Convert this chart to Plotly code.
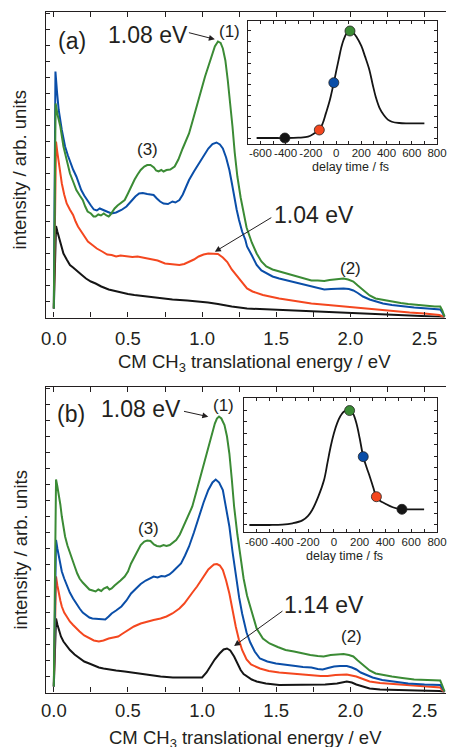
import plotly.graph_objects as go

FONT = "Liberation Sans, Arial, sans-serif"
TXT = "#231f20"
GREEN = "#3b8b35"
BLUE = "#0a4ea8"
RED = "#f4471f"
BLACK = "#151515"

# ---------------- panel (a) spectra ----------------
a_green_E = [0.0, 0.012, 0.025, 0.044, 0.065, 0.087, 0.109, 0.13, 0.152, 0.175, 0.195, 0.212, 0.228, 0.25, 0.268, 0.282, 0.3, 0.318, 0.337, 0.355, 0.37, 0.38, 0.395, 0.41, 0.43, 0.455, 0.478, 0.5, 0.52, 0.545, 0.565, 0.586, 0.61, 0.63, 0.652, 0.675, 0.69, 0.706, 0.725, 0.74, 0.76, 0.785, 0.815, 0.84, 0.869, 0.89, 0.912, 0.935, 0.956, 0.978, 1.0, 1.02, 1.042, 1.065, 1.086, 1.107, 1.125, 1.14, 1.157, 1.173, 1.19, 1.205, 1.22, 1.238, 1.26, 1.28, 1.3, 1.335, 1.368, 1.4, 1.433, 1.475, 1.52, 1.575, 1.63, 1.68, 1.737, 1.78, 1.824, 1.86, 1.89, 1.92, 1.954, 1.985, 2.02, 2.05, 2.085, 2.13, 2.17, 2.22, 2.28, 2.34, 2.39, 2.45, 2.52, 2.57, 2.606, 2.62, 2.635]
a_green_I = [9, 214, 203, 191, 171, 156, 144, 136, 127.5, 122, 117.5, 111, 106, 104, 101, 101, 103, 102, 104, 102, 101, 102.5, 106, 109, 112, 115, 117.5, 124, 131, 138, 143, 147.5, 151, 152.5, 152.5, 150, 147, 146, 147.5, 146, 147.5, 148, 151, 158, 169, 176, 184, 196, 207.5, 219, 231, 241, 251, 262, 271, 276, 274.5, 269, 257, 237.5, 214, 191, 165, 141, 120, 104, 90, 75, 64, 56, 51, 48, 46, 43.5, 41, 39, 37, 37, 36.5, 37.5, 38, 38.5, 39, 38, 36, 32, 27.5, 22, 19, 17.5, 16, 14.5, 13.5, 12.5, 11.5, 11, 11, 7, 1]

a_blue_E = [0.0, 0.011, 0.022, 0.033, 0.054, 0.076, 0.095, 0.109, 0.13, 0.152, 0.17, 0.185, 0.205, 0.228, 0.25, 0.27, 0.29, 0.31, 0.326, 0.345, 0.365, 0.39, 0.42, 0.456, 0.49, 0.52, 0.55, 0.575, 0.6, 0.63, 0.652, 0.673, 0.695, 0.717, 0.74, 0.77, 0.8, 0.82, 0.847, 0.87, 0.89, 0.912, 0.945, 0.977, 1.01, 1.042, 1.07, 1.097, 1.12, 1.14, 1.162, 1.184, 1.2, 1.216, 1.233, 1.249, 1.27, 1.292, 1.303, 1.336, 1.368, 1.4, 1.433, 1.475, 1.52, 1.575, 1.63, 1.68, 1.737, 1.78, 1.824, 1.87, 1.92, 1.954, 1.99, 2.02, 2.05, 2.085, 2.13, 2.17, 2.22, 2.28, 2.35, 2.43, 2.52, 2.606, 2.62, 2.635]
a_blue_I = [9, 246, 225, 207.5, 187.5, 171, 162, 156, 148, 141, 133, 127.5, 122, 117.5, 112, 108, 107, 109, 108, 106, 105.5, 104, 105, 107.5, 111, 116, 121, 124, 124.5, 123.5, 123, 122.5, 119, 116, 114, 113.5, 116, 115, 117.5, 123, 130, 137.5, 146, 154, 162, 169, 173.5, 175, 173, 169, 160, 147.5, 135, 121, 108, 97.5, 86, 77.5, 71, 62, 52.5, 47, 44, 41, 39, 37, 35, 33, 31.5, 30, 28, 28.5, 29, 29, 28.5, 27, 24.5, 21, 18, 16, 14, 12.5, 11, 10, 9, 8, 5, 1]

a_red_E = [0.0, 0.015, 0.024, 0.033, 0.044, 0.054, 0.07, 0.087, 0.108, 0.13, 0.147, 0.163, 0.185, 0.206, 0.23, 0.26, 0.29, 0.326, 0.36, 0.39, 0.42, 0.45, 0.478, 0.5, 0.53, 0.565, 0.6, 0.63, 0.652, 0.7, 0.75, 0.8, 0.847, 0.88, 0.912, 0.945, 0.977, 1.01, 1.042, 1.075, 1.107, 1.14, 1.17, 1.2, 1.238, 1.27, 1.303, 1.34, 1.41, 1.52, 1.63, 1.737, 1.85, 1.954, 2.085, 2.18, 2.28, 2.4, 2.5, 2.6, 2.635]
a_red_I = [9, 176, 165, 154, 144, 134, 123, 114, 108, 102.5, 96, 91, 86, 81, 76, 72.5, 69, 66, 63, 62.5, 61, 62, 61.5, 61, 60.5, 61, 60, 59, 59, 57, 54, 53, 52.5, 53.5, 55.5, 58, 61, 63, 64, 64, 63.5, 60, 55.5, 48, 41, 34, 29, 26, 22.5, 19, 16.5, 14, 12.5, 11, 9, 7.5, 6, 5, 4, 2.5, 0.5]

a_black_E = [0.0, 0.015, 0.024, 0.033, 0.048, 0.065, 0.087, 0.109, 0.13, 0.152, 0.185, 0.217, 0.25, 0.282, 0.32, 0.37, 0.41, 0.456, 0.5, 0.543, 0.6, 0.652, 0.72, 0.8, 0.9, 0.977, 1.04, 1.107, 1.2, 1.303, 1.45, 1.63, 1.8, 1.954, 2.1, 2.28, 2.45, 2.635]
a_black_I = [9, 91.5, 86, 81, 72, 64, 58, 52.5, 50, 47.5, 43, 39, 36, 34, 31, 28, 26.5, 25, 23.5, 22.5, 21.5, 21, 19.5, 18, 17, 16, 15, 13.5, 11, 9, 8, 7, 6, 5, 3.5, 2.5, 1.5, 0.5]

# ---------------- panel (b) spectra ----------------
b_green_E = [0.0, 0.015, 0.024, 0.033, 0.044, 0.054, 0.065, 0.076, 0.092, 0.109, 0.125, 0.141, 0.158, 0.174, 0.195, 0.217, 0.24, 0.262, 0.282, 0.3, 0.32, 0.337, 0.36, 0.375, 0.39, 0.41, 0.424, 0.45, 0.478, 0.5, 0.521, 0.55, 0.586, 0.61, 0.63, 0.652, 0.675, 0.695, 0.717, 0.74, 0.76, 0.782, 0.805, 0.825, 0.85, 0.88, 0.905, 0.934, 0.96, 0.988, 1.015, 1.042, 1.065, 1.086, 1.1, 1.114, 1.13, 1.151, 1.168, 1.184, 1.2, 1.216, 1.238, 1.26, 1.28, 1.303, 1.325, 1.347, 1.368, 1.41, 1.455, 1.51, 1.563, 1.62, 1.672, 1.73, 1.78, 1.82, 1.867, 1.91, 1.954, 1.99, 2.02, 2.05, 2.085, 2.13, 2.17, 2.22, 2.28, 2.35, 2.43, 2.52, 2.606, 2.62, 2.635]
b_green_I = [6, 213, 206, 199, 188, 176, 166, 156, 147, 139, 132, 126, 119, 114, 110, 106, 103, 102, 101, 103, 101.5, 104, 105.5, 103, 104, 107, 108.5, 112, 116, 121, 129, 137, 147.5, 151, 152, 151.5, 148, 146.5, 146, 147.5, 146.5, 147.5, 150, 152.5, 158, 167.5, 176, 186, 200, 216, 231, 246, 259, 269, 274, 276, 274, 267.5, 256, 239, 214, 186, 158, 132.5, 114, 97, 86, 74, 64, 54, 49, 45.5, 42.5, 41, 39, 37.5, 36.5, 36, 37.5, 38, 38.5, 37.5, 36, 32, 27.5, 22, 19, 17.5, 16, 14.5, 13, 12.5, 12, 7, 1]

b_blue_E = [0.0, 0.015, 0.024, 0.033, 0.044, 0.054, 0.07, 0.087, 0.108, 0.13, 0.152, 0.174, 0.195, 0.217, 0.24, 0.26, 0.29, 0.32, 0.347, 0.37, 0.39, 0.42, 0.456, 0.49, 0.521, 0.555, 0.586, 0.62, 0.652, 0.673, 0.7, 0.725, 0.75, 0.78, 0.803, 0.83, 0.858, 0.885, 0.912, 0.945, 0.977, 1.01, 1.042, 1.07, 1.092, 1.115, 1.14, 1.162, 1.184, 1.205, 1.227, 1.25, 1.27, 1.3, 1.325, 1.355, 1.39, 1.44, 1.498, 1.56, 1.63, 1.68, 1.737, 1.78, 1.813, 1.85, 1.89, 1.93, 1.976, 2.01, 2.04, 2.07, 2.106, 2.15, 2.215, 2.3, 2.39, 2.5, 2.606, 2.62, 2.635]
b_blue_I = [6, 152.5, 144, 136, 128, 121, 114, 107.5, 100, 94, 88.5, 84, 80, 77.5, 75, 74, 73.5, 73.5, 73, 76, 79, 82, 86, 92, 99, 104, 108.5, 112, 114, 116, 115, 116.5, 116, 118, 121, 125, 129, 137, 146, 160, 176, 190, 202.5, 210, 213, 210, 202.5, 186, 166, 141, 116, 95, 79, 60, 50, 41, 34, 31, 29, 27.5, 26.5, 25.5, 25, 23.5, 23, 24.5, 26, 26.5, 26.5, 25, 23, 20, 17.5, 15, 12.5, 10.5, 9, 8, 7.5, 4.5, 1]

b_red_E = [0.0, 0.015, 0.024, 0.033, 0.044, 0.054, 0.07, 0.087, 0.108, 0.13, 0.152, 0.174, 0.205, 0.239, 0.27, 0.304, 0.335, 0.37, 0.4, 0.434, 0.465, 0.5, 0.54, 0.586, 0.63, 0.673, 0.72, 0.76, 0.8, 0.847, 0.88, 0.912, 0.94, 0.966, 0.995, 1.02, 1.042, 1.064, 1.08, 1.1, 1.12, 1.14, 1.162, 1.184, 1.205, 1.227, 1.248, 1.27, 1.3, 1.33, 1.39, 1.45, 1.52, 1.63, 1.737, 1.8, 1.846, 1.9, 1.976, 2.01, 2.04, 2.085, 2.13, 2.2, 2.28, 2.4, 2.5, 2.606, 2.62, 2.635]
b_red_I = [6, 116, 107, 99, 92, 86, 80, 76, 71, 67.5, 64, 61, 57, 54, 52, 51, 52, 54, 55, 56, 59, 62.5, 66, 69, 71, 72.5, 74, 76, 79, 84, 89, 96, 101, 106, 113, 119, 123, 126, 128, 128.5, 127, 122.5, 112, 99, 82, 66, 53, 42.5, 33, 28, 24, 21.5, 20, 18.5, 17.5, 16.5, 16.5, 17.5, 18, 17, 16, 13.5, 11, 9.5, 8.5, 7, 6, 5, 2.5, 0.5]

b_black_E = [0.0, 0.015, 0.024, 0.033, 0.048, 0.065, 0.087, 0.109, 0.14, 0.174, 0.205, 0.239, 0.27, 0.304, 0.335, 0.37, 0.42, 0.478, 0.55, 0.652, 0.72, 0.803, 0.9, 0.96, 1.0, 1.03, 1.053, 1.085, 1.118, 1.145, 1.168, 1.19, 1.216, 1.24, 1.26, 1.28, 1.303, 1.335, 1.368, 1.43, 1.52, 1.63, 1.737, 1.83, 1.91, 1.976, 2.01, 2.04, 2.085, 2.13, 2.2, 2.28, 2.45, 2.6, 2.635]
b_black_I = [6, 74, 68, 62.5, 56, 51, 46.5, 42.5, 38, 34, 31, 29, 27, 25, 24, 23, 22, 21, 19.5, 17.5, 16, 15, 15, 14.5, 15, 20, 26, 33, 39, 43, 44, 42, 36, 28, 22.5, 18.5, 16, 13, 11, 9, 7.5, 7.5, 7.5, 8, 9, 11, 10, 8, 6, 4, 3, 2.5, 2, 1.5, 0.5]

# ---------------- insets: normalised signal vs delay ----------------
ia_t = [-630, -500, -406, -300, -222, -171, -133, -105, -81, -60, -43, -18, 0, 20, 40, 59, 85, 110, 135, 161, 200, 230, 264, 290, 314, 345, 378, 410, 442, 500, 570, 700]
ia_s = [0.0, 0.0, 0.0, 0.003, 0.012, 0.044, 0.075, 0.14, 0.23, 0.31, 0.386, 0.517, 0.62, 0.73, 0.84, 0.916, 0.98, 1.0, 0.985, 0.947, 0.86, 0.76, 0.636, 0.5, 0.386, 0.28, 0.215, 0.172, 0.152, 0.14, 0.137, 0.137]
ia_dot_t = [-406, -133, -18, 110]
ia_dot_s = [0.0, 0.075, 0.517, 1.0]

ib_t = [-655, -500, -400, -320, -244, -200, -168, -120, -76, -50, -25, 0, 25, 50, 76, 100, 122, 150, 175, 200, 228, 255, 279, 305, 330, 360, 393, 457, 528, 600, 700]
ib_s = [0.0, 0.0, 0.003, 0.015, 0.04, 0.08, 0.131, 0.25, 0.393, 0.54, 0.684, 0.8, 0.888, 0.95, 0.99, 1.0, 1.0, 0.97, 0.888, 0.76, 0.597, 0.5, 0.422, 0.33, 0.247, 0.21, 0.19, 0.155, 0.137, 0.137, 0.137]
ib_dot_t = [122, 228, 330, 528]
ib_dot_s = [1.0, 0.597, 0.247, 0.137]

dot_colors = [BLACK, RED, BLUE, GREEN]
dot_colors_b = [GREEN, BLUE, RED, BLACK]

W, H = 456, 747


def px_x(p):
    return p / W


def px_y(p):
    return 1 - p / H


fig = go.Figure()


def curve(E, I, color, xa, ya, width=2.0, shape="linear"):
    fig.add_trace(go.Scatter(x=E, y=I, mode="lines", line=dict(color=color, width=width, shape=shape),
                             xaxis=xa, yaxis=ya, showlegend=False, hoverinfo="skip"))


for E, I, c in [(a_black_E, a_black_I, BLACK), (a_red_E, a_red_I, RED),
                (a_blue_E, a_blue_I, BLUE), (a_green_E, a_green_I, GREEN)]:
    curve(E, I, c, "x", "y")
for E, I, c in [(b_black_E, b_black_I, BLACK), (b_red_E, b_red_I, RED),
                (b_blue_E, b_blue_I, BLUE), (b_green_E, b_green_I, GREEN)]:
    curve(E, I, c, "x3", "y3")

curve(ia_t, ia_s, BLACK, "x2", "y2", width=1.8, shape="spline")
curve(ib_t, ib_s, BLACK, "x4", "y4", width=1.8, shape="spline")
fig.add_trace(go.Scatter(x=ia_dot_t, y=ia_dot_s, mode="markers", xaxis="x2", yaxis="y2",
                         marker=dict(size=10, color=dot_colors, line=dict(color="#222", width=0.8)),
                         showlegend=False, hoverinfo="skip"))
fig.add_trace(go.Scatter(x=ib_dot_t, y=ib_dot_s, mode="markers", xaxis="x4", yaxis="y4",
                         marker=dict(size=10, color=dot_colors_b, line=dict(color="#222", width=0.8)),
                         showlegend=False, hoverinfo="skip"))

E_ticks = [0, 0.5, 1.0, 1.5, 2.0, 2.5]
E_text = ["0.0", "0.5", "1.0", "1.5", "2.0", "2.5"]
t_ticks = [-600, -400, -200, 0, 200, 400, 600, 800]
t_text = ["-600", "-400", "-200", "0", "200", "400", "600", "800"]


def main_x(anchor, standoff):
    return dict(range=[-0.052, 2.645], domain=[42.5 / W, 1], anchor=anchor,
                showline=True, linecolor=TXT, linewidth=1.3, mirror="ticks",
                ticks="inside", ticklen=5, tickwidth=1, tickcolor=TXT,
                tickvals=E_ticks, ticktext=E_text, tickangle=0,
                minor=dict(tick0=0, dtick=0.25, ticks="inside", ticklen=5, tickwidth=1, tickcolor=TXT),
                showgrid=False, zeroline=False, ticklabelstandoff=standoff, ticklabeloverflow="allow",
                tickfont=dict(family=FONT, size=18.5, color=TXT))


def main_y(anchor, dom):
    return dict(range=[0, 305.5], domain=dom, anchor=anchor,
                showline=True, linecolor=TXT, linewidth=1.3, mirror=False,
                ticks="inside", ticklen=4, tickwidth=1, tickcolor=TXT, tick0=0, dtick=16,
                showticklabels=False, showgrid=False, zeroline=False)


def inset_x(anchor, rng, dom, standoff):
    return dict(range=rng, domain=dom, anchor=anchor,
                showline=True, linecolor=TXT, linewidth=1.1, mirror="ticks",
                ticks="inside", ticklen=3, tickwidth=0.8, tickcolor=TXT,
                tickvals=t_ticks, ticktext=t_text, tickangle=0,
                minor=dict(tick0=0, dtick=100, ticks="inside", ticklen=3, tickwidth=0.8, tickcolor=TXT),
                showgrid=False, zeroline=False, ticklabelstandoff=standoff, ticklabeloverflow="allow",
                tickfont=dict(family=FONT, size=11.5, color=TXT))


def inset_y(anchor, rng, dom):
    return dict(range=rng, domain=dom, anchor=anchor,
                showline=True, linecolor=TXT, linewidth=1.1, mirror="ticks",
                ticks="inside", ticklen=3, tickwidth=0.8, tickcolor=TXT, tick0=0, dtick=0.1,
                showticklabels=False, showgrid=False, zeroline=False)


fig.update_layout(
    width=W, height=H, margin=dict(l=0, r=0, t=0, b=0),
    paper_bgcolor="white", plot_bgcolor="white", showlegend=False,
    font=dict(family=FONT, color=TXT),
    xaxis=main_x("y", 4),
    yaxis=main_y("x", [px_y(317.5), px_y(12)]),
    xaxis3=main_x("y3", 1),
    yaxis3=main_y("x3", [px_y(692.5), px_y(387)]),
    xaxis2=inset_x("y2", [-695, 800], [px_x(251.7), px_x(446.7)], -2),
    yaxis2=inset_y("x2", [-0.056, 1.096], [px_y(144), px_y(20.7)]),
    xaxis4=inset_x("y4", [-700, 800], [px_x(246.7), px_x(446.7)], -1),
    yaxis4=inset_y("x4", [-0.064, 1.107], [px_y(532.3), px_y(398.3)]),
)

ann = []


def txt(x, y, s, size, xref="x", yref="y", angle=0):
    ann.append(dict(x=x, y=y, xref=xref, yref=yref, text=s, showarrow=False, textangle=angle,
                    xanchor="center", yanchor="middle", font=dict(family=FONT, size=size, color=TXT)))


def arrow(xt, yt, xs, ys, xref, yref):
    ann.append(dict(x=xt, y=yt, ax=xs, ay=ys, xref=xref, yref=yref, axref=xref, ayref=yref,
                    text="", showarrow=True, arrowhead=2, arrowsize=1.2, arrowwidth=1, arrowcolor=TXT))


# panel (a)
txt(0.124, 276, "(a)", 23)
txt(0.635, 282.5, "1.08 eV", 23)
txt(1.182, 286, "(1)", 17)
txt(0.629, 167.5, "(3)", 17)
txt(2.003, 49, "(2)", 17)
txt(1.752, 102.5, "1.04 eV", 23)
arrow(1.086, 278.2, 0.901, 285.2, "x", "y")
arrow(1.086, 65.8, 1.477, 100.8, "x", "y")

# panel (b)
txt(0.114, 279, "(b)", 23, "x3", "y3")
txt(0.586, 284, "1.08 eV", 23, "x3", "y3")
txt(1.147, 287.5, "(1)", 17, "x3", "y3")
txt(0.638, 164.5, "(3)", 17, "x3", "y3")
txt(1.824, 87.5, "1.14 eV", 23, "x3", "y3")
txt(2.007, 56.5, "(2)", 17, "x3", "y3")
arrow(1.042, 275.8, 0.868, 281.5, "x3", "y3")
arrow(1.216, 46.5, 1.552, 82.5, "x3", "y3")

# axis titles
txt(px_x(15), px_y(170), "intensity / arb. units", 18.5, "paper", "paper", -90)
txt(px_x(15), px_y(550), "intensity / arb. units", 18.5, "paper", "paper", -90)
txt(px_x(257.5), px_y(363), "CM CH<sub>3</sub> translational energy / eV", 18.5, "paper", "paper")
txt(px_x(249), px_y(739), "CM CH<sub>3</sub> translational energy / eV", 18.5, "paper", "paper")
txt(px_x(357.5), px_y(167), "delay time / fs", 12.5, "paper", "paper")
txt(px_x(351), px_y(556), "delay time / fs", 12.5, "paper", "paper")

fig.update_layout(annotations=ann)
fig.write_html("out.html", config={"displayModeBar": False},
               post_script="document.body.style.margin='0';document.body.style.padding='0';document.body.style.overflow='hidden';")
